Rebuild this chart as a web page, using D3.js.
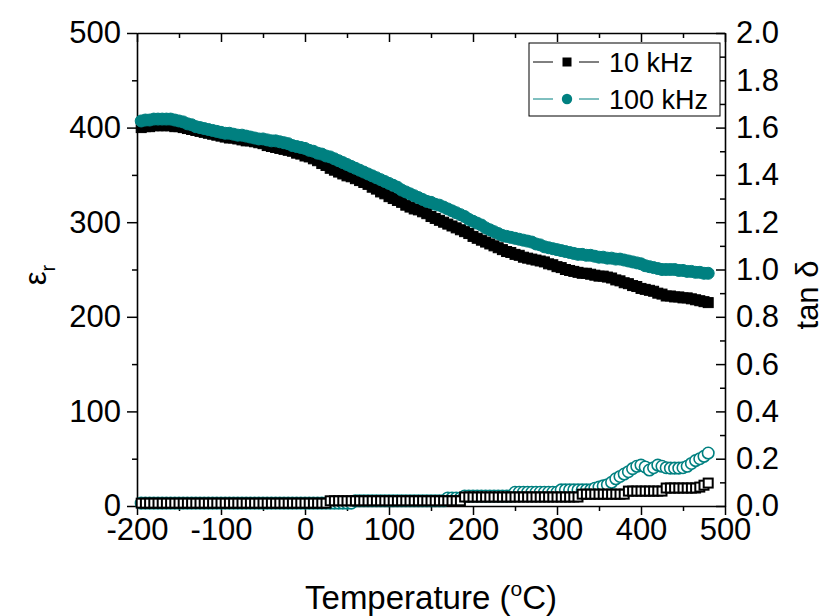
<!DOCTYPE html>
<html>
<head>
<meta charset="utf-8">
<script src="https://cdn.jsdelivr.net/npm/d3@7"></script>
<style>
  body { margin: 0; background: #fff; }
  text { font-family: Arial, "Liberation Sans", sans-serif; }
</style>
</head>
<body>
<div id="chart"></div>
<script>
/**********************************************************************/
// DATA:
/**********************************************************************/

// Temperature (°C):
const temperature = [
  -195,-190,-185,-180,-175,-170,-165,-160,-155,-150,
  -145,-140,-135,-130,-125,-120,-115,-110,-105,-100,
  -95,-90,-85,-80,-75,-70,-65,-60,-55,-50,
  -45,-40,-35,-30,-25,-20,-15,-10,-5,0,
  5,10,15,20,25,30,35,40,45,50,
  55,60,65,70,75,80,85,90,95,100,
  105,110,115,120,125,130,135,140,145,150,
  155,160,165,170,175,180,185,190,195,200,
  205,210,215,220,225,230,235,240,245,250,
  255,260,265,270,275,280,285,290,295,300,
  305,310,315,320,325,330,335,340,345,350,
  355,360,365,370,375,380,385,390,395,400,
  405,410,415,420,425,430,435,440,445,450,
  455,460,465,470,475,480
];

// epsilon_r at 10 kHz:
const epsilon10k = [
  400,401,401,402,402,402,402,402,401,401,
  400,399,398,397,396,395,394,393,392,391,
  390,389,389,388,387,386,386,385,384,383,
  381,380,379,378,377,376,375,373,372,370,
  369,367,365,362,360,357,355,353,351,349,
  348,346,344,342,340,337,335,332,330,327,
  325,323,321,318,316,314,313,311,309,306,
  304,302,300,298,296,294,292,290,288,285,
  283,281,279,277,275,273,271,269,268,266,
  265,263,262,261,260,259,258,256,255,253,
  252,250,249,248,247,246,246,245,244,243,
  243,242,241,239,238,236,235,233,232,230,
  229,228,227,225,224,222,222,221,221,220,
  220,219,218,217,216,215
];

// epsilon_r at 100 kHz:
const epsilon100k = [
  407,408,408,409,409,409,409,409,408,407,
  406,404,403,401,400,399,398,397,396,395,
  394,394,393,392,392,391,390,389,388,388,
  387,386,386,385,384,383,381,380,379,378,
  376,375,373,372,370,369,367,365,363,361,
  359,357,355,353,351,349,347,345,343,341,
  339,337,334,332,330,328,326,324,322,321,
  319,318,316,314,312,310,308,306,303,301,
  299,297,294,292,290,288,286,285,284,283,
  282,281,280,279,277,276,274,273,272,271,
  270,269,268,267,266,266,265,265,264,263,
  263,262,262,261,261,260,259,258,257,256,
  254,253,252,251,250,250,250,250,249,249,
  248,248,247,247,246,246
];

// tan delta at 10 kHz:
const tanDelta10k = [
  0.012,0.012,0.012,0.012,0.012,0.012,0.012,0.012,0.012,0.012,
  0.012,0.012,0.012,0.012,0.012,0.012,0.012,0.012,0.012,0.012,
  0.012,0.012,0.012,0.012,0.012,0.012,0.012,0.012,0.012,0.012,
  0.012,0.012,0.012,0.012,0.012,0.012,0.012,0.012,0.012,0.012,
  0.012,0.012,0.012,0.012,0.012,0.022,0.022,0.022,0.022,0.022,
  0.022,0.022,0.022,0.022,0.022,0.022,0.022,0.022,0.022,0.022,
  0.022,0.022,0.022,0.022,0.022,0.022,0.022,0.022,0.022,0.022,
  0.022,0.022,0.022,0.022,0.022,0.022,0.022,0.038,0.038,0.038,
  0.038,0.038,0.038,0.038,0.038,0.038,0.038,0.038,0.038,0.038,
  0.038,0.038,0.038,0.038,0.038,0.038,0.038,0.038,0.038,0.038,
  0.038,0.038,0.038,0.038,0.038,0.050,0.050,0.050,0.050,0.050,
  0.050,0.050,0.050,0.050,0.050,0.050,0.063,0.063,0.063,0.063,
  0.063,0.063,0.063,0.063,0.063,0.076,0.076,0.076,0.076,0.076,
  0.076,0.076,0.076,0.080,0.088,0.097
];

// tan delta at 100 kHz:
const tanDelta100k = [
  0.012,0.012,0.012,0.012,0.012,0.012,0.012,0.012,0.012,0.012,
  0.012,0.012,0.012,0.012,0.012,0.012,0.012,0.012,0.012,0.012,
  0.012,0.012,0.012,0.012,0.012,0.012,0.012,0.012,0.012,0.012,
  0.012,0.012,0.012,0.012,0.012,0.012,0.012,0.012,0.012,0.012,
  0.012,0.012,0.012,0.012,0.012,0.012,0.012,0.012,0.012,0.012,
  0.012,0.022,0.022,0.022,0.022,0.022,0.022,0.022,0.022,0.022,
  0.022,0.022,0.022,0.022,0.022,0.022,0.022,0.022,0.022,0.022,
  0.022,0.022,0.022,0.034,0.034,0.034,0.034,0.042,0.042,0.042,
  0.042,0.042,0.042,0.042,0.042,0.042,0.042,0.042,0.042,0.058,
  0.058,0.058,0.058,0.058,0.058,0.058,0.058,0.058,0.058,0.058,
  0.068,0.068,0.068,0.068,0.068,0.068,0.068,0.068,0.075,0.080,
  0.085,0.090,0.100,0.115,0.125,0.135,0.145,0.158,0.168,0.173,
  0.165,0.152,0.162,0.173,0.168,0.162,0.160,0.160,0.160,0.162,
  0.168,0.180,0.192,0.200,0.210,0.224
];

// Tick values:
const xTicks = [-200, -100, 0, 100, 200, 300, 400, 500];
const xMinorTicks = [-150, -50, 50, 150, 250, 350, 450];
const leftTicks = [0, 100, 200, 300, 400, 500];
const leftMinorTicks = [50, 150, 250, 350, 450];
const rightTicks = [0, 0.2, 0.4, 0.6, 0.8, 1.0, 1.2, 1.4, 1.6, 1.8, 2.0];
const rightMinorTicks = [0.1, 0.3, 0.5, 0.7, 0.9, 1.1, 1.3, 1.5, 1.7, 1.9];

// Legend:
const legendLabels = ['10 kHz', '100 kHz'];
const seriesColors = ['#000000', '#008080'];

/**********************************************************************/
// CHART DEFINITIONS:
/**********************************************************************/
const svgWidth = 825;
const svgHeight = 616;

const margin = { top: 33, right: 100, bottom: 110, left: 137 };

const chartWidth = svgWidth - margin.left - margin.right;
const chartHeight = svgHeight - margin.top - margin.bottom;

let svg = d3.select('#chart')
            .append('svg')
            .attr('width', svgWidth)
            .attr('height', svgHeight);

let chartGroup = svg.append('g')
                    .attr('transform', `translate(${margin.left}, ${margin.top})`);

// scales:
let xScale = d3.scaleLinear().domain([-200, 500]).range([0, chartWidth]);
let yLeft = d3.scaleLinear().domain([0, 500]).range([chartHeight, 0]);
let yRight = d3.scaleLinear().domain([0, 2]).range([chartHeight, 0]);

/**********************************************************************/
// AXES:
/**********************************************************************/
function styleAxis(g, fontSize) {
    g.select('.domain').attr('stroke-width', 1.6);
    g.selectAll('.tick line').attr('stroke-width', 1.5);
    g.selectAll('.tick text')
     .attr('font-size', fontSize)
     .attr('font-family', 'Arial, "Liberation Sans", sans-serif')
     .attr('fill', '#000');
}

// plain hyphen for negatives, like the original:
const plainFormat = d => String(d);

// bottom:
let xAxis = chartGroup.append('g')
    .attr('transform', `translate(0, ${chartHeight})`)
    .call(d3.axisBottom(xScale).tickValues(xTicks).tickSizeInner(9)
                               .tickSizeOuter(0).tickPadding(3)
                               .tickFormat(plainFormat));
styleAxis(xAxis, 31);
chartGroup.append('g')
    .attr('transform', `translate(0, ${chartHeight})`)
    .call(d3.axisBottom(xScale).tickValues(xMinorTicks).tickSize(5).tickFormat(''))
    .call(g => g.select('.domain').remove())
    .call(g => styleAxis(g, 0));

// top:
let topAxis = chartGroup.append('g')
    .call(d3.axisTop(xScale).tickValues(xTicks).tickSizeInner(-9)
                            .tickSizeOuter(0).tickFormat(''));
styleAxis(topAxis, 0);
chartGroup.append('g')
    .call(d3.axisTop(xScale).tickValues(xMinorTicks).tickSize(-5).tickFormat(''))
    .call(g => g.select('.domain').remove())
    .call(g => styleAxis(g, 0));

// left:
let leftAxis = chartGroup.append('g')
    .call(d3.axisLeft(yLeft).tickValues(leftTicks).tickSizeInner(10)
                            .tickSizeOuter(0).tickPadding(6)
                            .tickFormat(plainFormat));
styleAxis(leftAxis, 31);
chartGroup.append('g')
    .call(d3.axisLeft(yLeft).tickValues(leftMinorTicks).tickSize(5).tickFormat(''))
    .call(g => g.select('.domain').remove())
    .call(g => styleAxis(g, 0));

// right:
let rightAxis = chartGroup.append('g')
    .attr('transform', `translate(${chartWidth}, 0)`)
    .call(d3.axisRight(yRight).tickValues(rightTicks).tickSizeInner(-9)
                              .tickSizeOuter(0).tickPadding(11)
                              .tickFormat(d3.format('.1f')));
styleAxis(rightAxis, 31);
chartGroup.append('g')
    .attr('transform', `translate(${chartWidth}, 0)`)
    .call(d3.axisRight(yRight).tickValues(rightMinorTicks).tickSize(-5).tickFormat(''))
    .call(g => g.select('.domain').remove())
    .call(g => styleAxis(g, 0));

/**********************************************************************/
// SERIES:
/**********************************************************************/
function drawSeries(values, yScale, color, shape, filled, size, sw) {
    let pts = temperature.map((t, i) => [t, values[i]]);
    let line = d3.line().x(d => xScale(d[0])).y(d => yScale(d[1]));
    let g = chartGroup.append('g');
    g.append('path')
     .attr('d', line(pts))
     .attr('fill', 'none')
     .attr('stroke', color)
     .attr('stroke-width', 1);
    let fill = filled ? color : '#fff';
    if (shape === 'square') {
        g.selectAll('rect').data(pts).enter().append('rect')
         .attr('x', d => xScale(d[0]) - size / 2)
         .attr('y', d => yScale(d[1]) - size / 2)
         .attr('width', size).attr('height', size)
         .attr('fill', fill).attr('stroke', color).attr('stroke-width', sw);
    } else {
        g.selectAll('circle').data(pts).enter().append('circle')
         .attr('cx', d => xScale(d[0]))
         .attr('cy', d => yScale(d[1]))
         .attr('r', size / 2)
         .attr('fill', fill).attr('stroke', color).attr('stroke-width', sw);
    }
}

drawSeries(epsilon10k, yLeft, seriesColors[0], 'square', true, 10, 1);
drawSeries(epsilon100k, yLeft, seriesColors[1], 'circle', true, 12, 1);
drawSeries(tanDelta100k, yRight, seriesColors[1], 'circle', false, 11.5, 1.6);
drawSeries(tanDelta10k, yRight, seriesColors[0], 'square', false, 9, 2);

/**********************************************************************/
// LEGEND:
/**********************************************************************/
let legend = svg.append('g').attr('transform', 'translate(529, 43)');
legend.append('rect')
      .attr('width', 191).attr('height', 73)
      .attr('fill', '#fff').attr('stroke', '#000').attr('stroke-width', 1);

legendLabels.forEach((label, i) => {
    let y = 19 + i * 37;
    let color = seriesColors[i];
    let row = legend.append('g');
    row.append('line').attr('x1', 4).attr('x2', 24).attr('y1', y).attr('y2', y)
       .attr('stroke', color).attr('stroke-width', 1);
    row.append('line').attr('x1', 50).attr('x2', 70).attr('y1', y).attr('y2', y)
       .attr('stroke', color).attr('stroke-width', 1);
    if (i === 0) {
        row.append('rect').attr('x', 33.5).attr('y', y - 4.5)
           .attr('width', 9).attr('height', 9).attr('fill', color);
    } else {
        row.append('circle').attr('cx', 38).attr('cy', y).attr('r', 5.2).attr('fill', color);
    }
    row.append('text').attr('x', 80).attr('y', y).attr('dy', '0.36em')
       .attr('font-size', 27).text(label);
});

/**********************************************************************/
// AXIS TITLES:
/**********************************************************************/
let xTitle = svg.append('text')
    .attr('x', margin.left + chartWidth / 2)
    .attr('y', 609)
    .attr('text-anchor', 'middle')
    .attr('font-size', 33);
xTitle.append('tspan').text('Temperature (');
xTitle.append('tspan').attr('font-size', 21).attr('dy', -13).text('o');
xTitle.append('tspan').attr('dy', 13).text('C)');

let yTitle = svg.append('text')
    .attr('transform', 'translate(46, 275) rotate(-90)')
    .attr('text-anchor', 'middle')
    .attr('font-size', 31);
yTitle.append('tspan').text('\u03b5');
yTitle.append('tspan').attr('font-size', 20).attr('dy', 9).text('r');

svg.append('text')
   .attr('transform', 'translate(818, 295) rotate(-90)')
   .attr('text-anchor', 'middle')
   .attr('font-size', 31)
   .text('tan \u03b4');
</script>
</body>
</html>
